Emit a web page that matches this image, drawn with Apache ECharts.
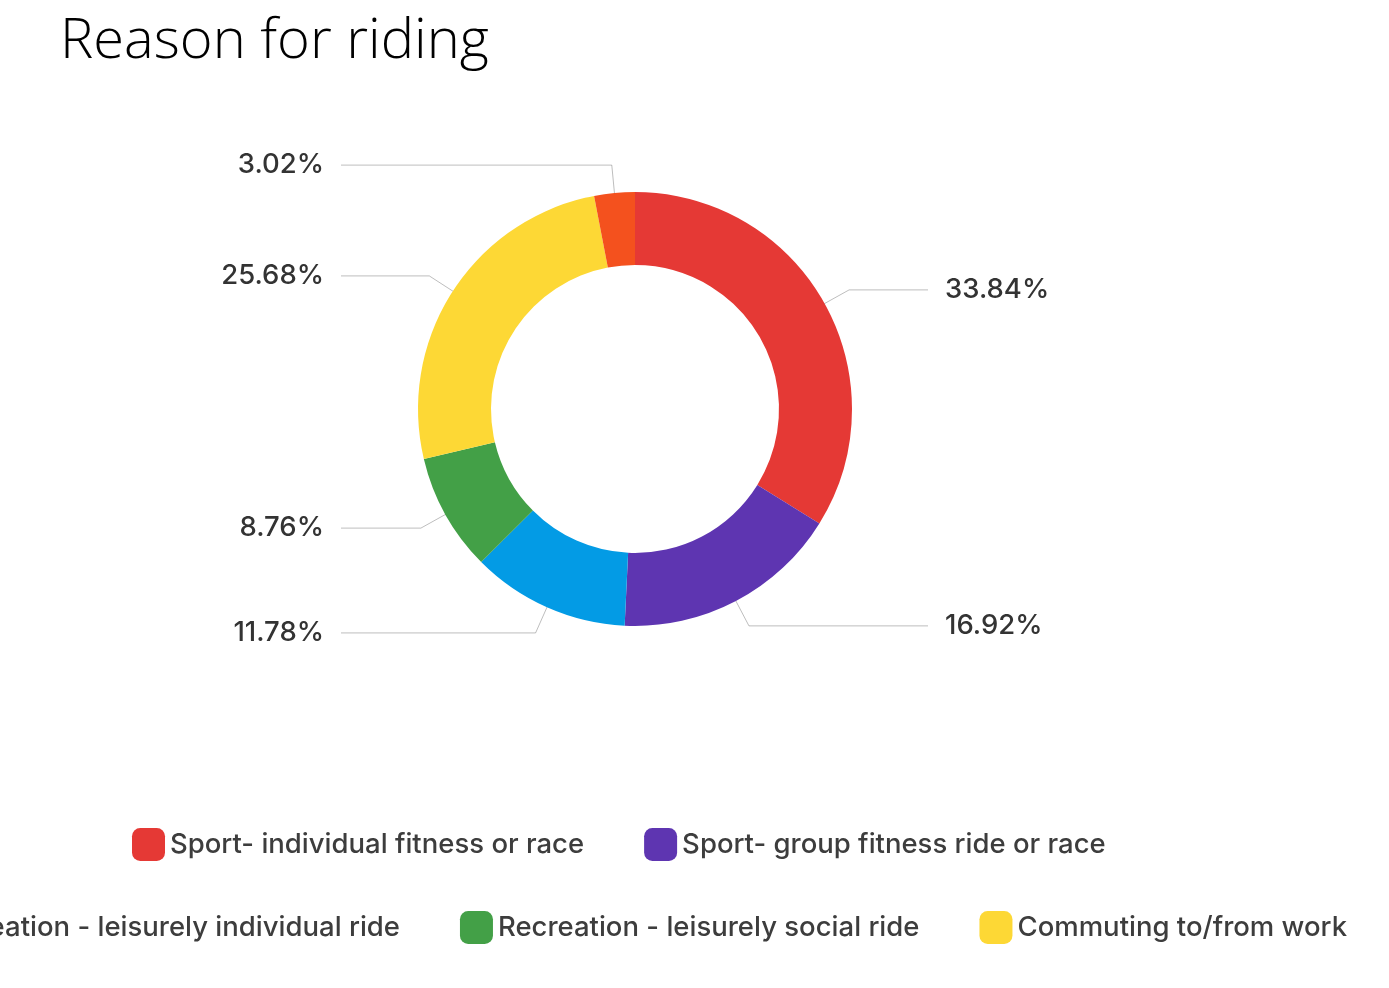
<!DOCTYPE html>
<html>
<head>
<meta charset="utf-8">
<script src="https://cdn.jsdelivr.net/npm/echarts@6/dist/echarts.min.js"></script>
<style>
  html, body { margin: 0; padding: 0; background: #fff; }
  #chart { width: 1389px; height: 988px; }
</style>
</head>
<body>
<div id="chart"></div>
<script>
// Reasons given for riding (share of respondents, %)
const categories = [
  'Sport- individual fitness or race',
  'Sport- group fitness ride or race',
  'Recreation - leisurely individual ride',
  'Recreation - leisurely social ride',
  'Commuting to/from work',
  'Other'
];
const shares = [33.84, 16.92, 11.78, 8.76, 25.68, 3.02];
const colors = ['#E53935', '#5E35B1', '#039BE5', '#43A047', '#FDD835', '#F4511E'];

// legend rows
const legendRow1 = [categories[0], categories[1]];
const legendRow2 = [categories[2], categories[3], categories[4]];

const pieData = categories.map((name, i) => ({
  name: name,
  value: shares[i],
  itemStyle: { color: colors[i] }
}));

const center = [635, 409];
// x where the horizontal leader lines end on each side
const leftLineEnd = 341;
const rightLineEnd = 928;
const labelGap = 17;

const legendText = { fontFamily: 'Inter', fontWeight: 500, fontSize: 27.5, color: '#3d3d3d' };
const legendCommon = {
  orient: 'horizontal',
  padding: 0,
  width: 3000,
  itemWidth: 33,
  itemHeight: 33,
  itemGap: 60,
  icon: 'roundRect',
  selectedMode: false,
  textStyle: legendText
};

const chart = echarts.init(document.getElementById('chart'), null, { renderer: 'canvas' });
chart.setOption({
  backgroundColor: '#ffffff',
  animation: false,
  title: {
    text: 'Reason for riding',
    left: 55,
    top: 9,
    textStyle: {
      fontFamily: 'Open Sans',
      fontWeight: 300,
      fontSize: 56,
      color: '#000000'
    }
  },
  legend: [
    Object.assign({ data: legendRow1, left: 132, top: 828 }, legendCommon),
    Object.assign({ data: legendRow2, right: 42, top: 911 }, legendCommon)
  ],
  series: [
    {
      // the ring itself
      type: 'pie',
      center: center,
      radius: [144, 217],
      startAngle: 90,
      clockwise: true,
      silent: true,
      label: { show: false },
      labelLine: { show: false },
      data: pieData
    },
    {
      // transparent twin carrying the percentage labels, so leader lines start mid-ring
      type: 'pie',
      center: center,
      radius: [0, 180],
      startAngle: 90,
      clockwise: true,
      silent: true,
      itemStyle: { color: 'rgba(0,0,0,0)' },
      label: {
        show: true,
        position: 'outside',
        fontFamily: 'Inter',
        fontWeight: 500,
        fontSize: 27.5,
        color: '#333333',
        formatter: p => p.value.toFixed(2) + '%'
      },
      labelLine: {
        show: true,
        length: 65,
        length2: 40,
        lineStyle: { color: 'rgba(0,0,0,0.26)', width: 1 }
      },
      // stretch every horizontal leader to a common column on its side
      labelLayout: function (params) {
        const pts = params.labelLinePoints;
        if (!pts) return {};
        const bend = pts[1];
        const isLeft = pts[2][0] < center[0];
        const end = isLeft ? leftLineEnd : rightLineEnd;
        return {
          x: isLeft ? end - labelGap : end + labelGap,
          y: bend[1],
          align: isLeft ? 'right' : 'left',
          verticalAlign: 'middle',
          labelLinePoints: [pts[0], bend, [end, bend[1]]]
        };
      },
      data: categories.map((name, i) => ({ name: name, value: shares[i] }))
    }
  ]
});
</script>
</body>
</html>
